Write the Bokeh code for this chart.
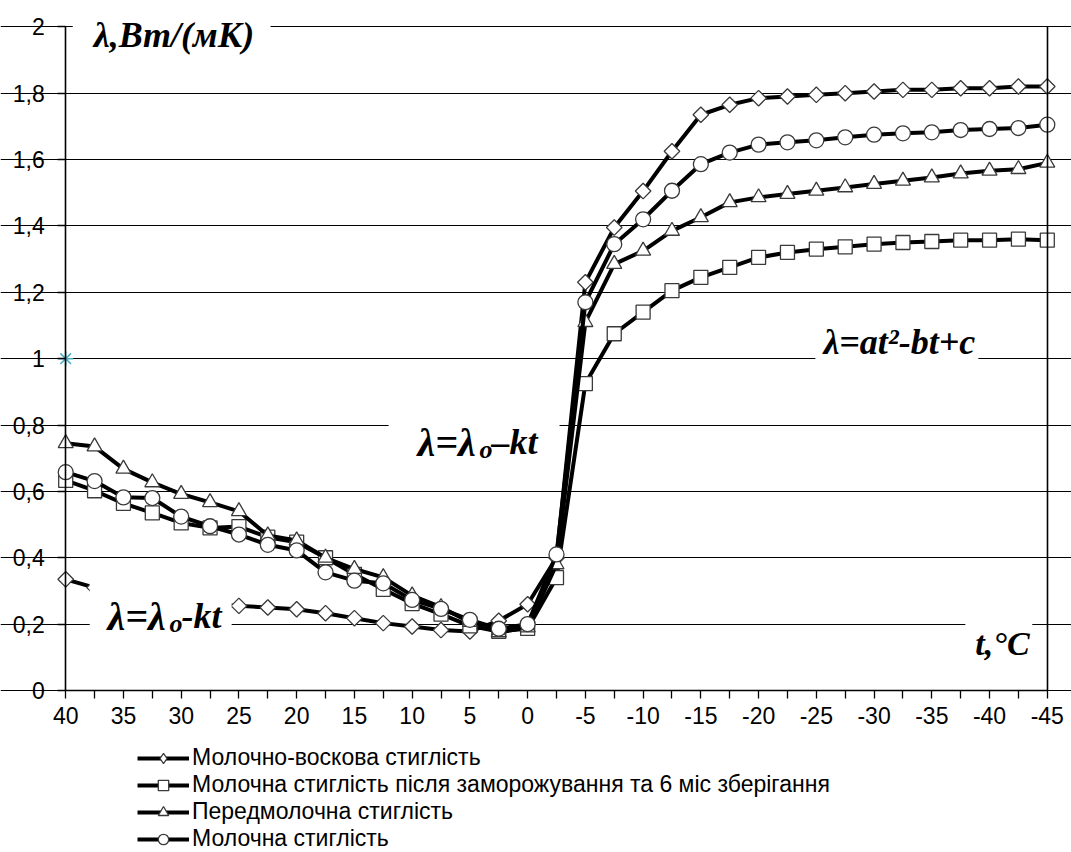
from bokeh.plotting import figure
from bokeh.models import (Range1d, FixedTicker, Label, BoxAnnotation, Legend, LinearAxis,
                          LegendItem, CustomJSTickFormatter)
from bokeh.embed import file_html
from bokeh.resources import INLINE

# ---------------- data ----------------
temps = [40, 37.5, 35, 32.5, 30, 27.5, 25, 22.5, 20, 17.5, 15, 12.5, 10, 7.5, 5, 2.5, 0,
         -2.5, -5, -7.5, -10, -12.5, -15, -17.5, -20, -22.5, -25, -27.5, -30, -32.5, -35,
         -37.5, -40, -42.5, -45]

milk_wax = [0.335, 0.31, 0.295, 0.28, 0.27, 0.26, 0.255, 0.25, 0.245, 0.233, 0.218, 0.203,
            0.193, 0.182, 0.178, 0.21, 0.26, 0.40, 1.23, 1.395, 1.505, 1.625, 1.735, 1.765,
            1.785, 1.79, 1.795, 1.80, 1.805, 1.81, 1.81, 1.815, 1.815, 1.82, 1.82]

milk_frozen = [0.633, 0.602, 0.564, 0.535, 0.505, 0.49, 0.494, 0.462, 0.447, 0.40, 0.35, 0.305,
               0.262, 0.23, 0.195, 0.178, 0.187, 0.34, 0.925, 1.075, 1.14, 1.205, 1.245, 1.275,
               1.305, 1.32, 1.33, 1.337, 1.345, 1.35, 1.353, 1.357, 1.357, 1.36, 1.357]

pre_milk = [0.745, 0.735, 0.668, 0.627, 0.592, 0.567, 0.54, 0.467, 0.452, 0.40, 0.366, 0.341,
            0.286, 0.251, 0.206, 0.175, 0.19, 0.38, 1.11, 1.285, 1.325, 1.385, 1.426, 1.471,
            1.486, 1.496, 1.506, 1.516, 1.526, 1.536, 1.546, 1.558, 1.566, 1.571, 1.59]

milk = [0.658, 0.631, 0.582, 0.58, 0.524, 0.495, 0.47, 0.439, 0.422, 0.356, 0.331, 0.323,
        0.273, 0.246, 0.213, 0.186, 0.20, 0.41, 1.17, 1.345, 1.42, 1.506, 1.586, 1.621,
        1.645, 1.652, 1.658, 1.667, 1.675, 1.679, 1.682, 1.689, 1.692, 1.695, 1.705]

series_names = ["Молочно-воскова стиглість",
                "Молочна стиглість після заморожування та 6 міс зберігання",
                "Передмолочна стиглість",
                "Молочна стиглість"]

x_major = [40, 35, 30, 25, 20, 15, 10, 5, 0, -5, -10, -15, -20, -25, -30, -35, -40, -45]
x_minor = [37.5, 32.5, 27.5, 22.5, 17.5, 12.5, 7.5, 2.5, -2.5, -7.5, -12.5, -17.5, -22.5,
           -27.5, -32.5, -37.5, -42.5]
y_major = [0, 0.2, 0.4, 0.6, 0.8, 1.0, 1.2, 1.4, 1.6, 1.8, 2.0]

stray_x = [40]
stray_y = [1.0]

# ---------------- figure ----------------
p = figure(width=1071, height=852, output_backend="svg", toolbar_location=None,
           x_range=Range1d(45.646, -47.096), y_range=Range1d(-0.4882, 2.0793),
           min_border=0, min_border_left=0, min_border_right=0, min_border_top=0,
           min_border_bottom=0,
           background_fill_color="white", border_fill_color="white")
p.outline_line_color = None

TICK_FONT = "Liberation Sans, Arial, sans-serif"

p.xaxis.ticker = FixedTicker(ticks=x_major, minor_ticks=x_minor)
p.xaxis.formatter = CustomJSTickFormatter(code="return String(tick);")
p.xaxis.bounds = (40, -45)
p.xaxis.fixed_location = 0
p.yaxis.ticker = FixedTicker(ticks=y_major, minor_ticks=[])
p.yaxis.formatter = CustomJSTickFormatter(
    code="const s = (Math.round(tick*10)/10).toString(); return s.replace('.', ',');")
p.yaxis.fixed_location = 40
p.yaxis.bounds = (0, 2)
for ax in (p.xaxis, p.yaxis):
    ax.axis_line_color = "black"
    ax.axis_line_width = 1.6
    ax.major_tick_line_color = "black"
    ax.major_tick_line_width = 1.3
    ax.major_tick_out = 8
    ax.major_tick_in = 0
    ax.minor_tick_line_color = "black"
    ax.minor_tick_line_width = 1.3
    ax.minor_tick_out = 8
    ax.minor_tick_in = 0
    ax.major_label_text_font = TICK_FONT
    ax.major_label_text_font_size = "23px"
    ax.major_label_text_color = "black"
p.yaxis.major_label_standoff = 13
p.xaxis.major_label_standoff = 9

# right border of the plot area
right_border = LinearAxis(fixed_location=-45, bounds=(0, 2), ticker=FixedTicker(ticks=[]),
                          axis_line_color="black", axis_line_width=1.6,
                          major_tick_line_color=None, minor_tick_line_color=None,
                          major_label_text_font_size="0px")
p.add_layout(right_border, "right")

p.xgrid.visible = False
p.ygrid.ticker = FixedTicker(ticks=y_major)
p.ygrid.bounds = (-45, 40)
p.ygrid.grid_line_color = "black"
p.ygrid.grid_line_width = 1.2

# ---------------- series ----------------
styles = [
    (milk_wax, dict(marker="square", size=11, angle=0.785398)),
    (milk_frozen, dict(marker="square", size=14)),
    (pre_milk, dict(marker="triangle", size=15)),
    (milk, dict(marker="circle", size=15)),
]
MARK_LINE = "#3a3a3a"
items = []
for i, ((vals, mk), name) in enumerate(zip(styles, series_names)):
    lr = p.line(temps, vals, line_color="black", line_width=4, line_join="round")
    leg_mark = None
    if i == 0:
        # plain diamond under each rotated square: gives the legend a diamond sample
        leg_mark = p.scatter(temps, vals, marker="diamond", size=10, fill_color="white",
                             line_color=MARK_LINE, line_width=1.3)
    sr = p.scatter(temps, vals, fill_color="white", line_color=MARK_LINE, line_width=1.3, **mk)
    items.append(LegendItem(label=name, renderers=[lr, leg_mark if leg_mark is not None else sr]))

p.scatter(stray_x, stray_y, marker="asterisk", size=15, line_color="#4bacc6", line_width=1.5)

# ---------------- annotation masks & texts ----------------
def mask(l, r, b, t):
    p.add_layout(BoxAnnotation(left=l, right=r, bottom=b, top=t, fill_color="white",
                               fill_alpha=1.0, line_alpha=0.0))

mask(39.39, 22.26, 1.946, 2.05)      # title
mask(12.04, -2.76, 0.687, 0.837)     # upper lambda
mask(37.92, 25.63, 0.12, 0.346)      # lower lambda
mask(-24.92, -39.03, 0.97, 1.139)    # quadratic
mask(-37.9, -43.7, 0.12, 0.235)      # t, C

SERIF = "Liberation Serif, Times New Roman, serif"

def txt(x, y, s, size="36px"):
    p.add_layout(Label(x=x, y=y, text=s, text_font=SERIF, text_font_style="bold italic",
                       text_font_size=size, text_color="black", text_align="left",
                       text_baseline="alphabetic"))

txt(37.58, 1.976, "λ,Вт/(мК)")
# upper  λ=λo–kt
txt(9.533, 0.748, "λ=λ", "40px")
txt(4.165, 0.726, "o", "26px")
txt(3.125, 0.748, "–kt")
# lower  λ=λo-kt
txt(36.38, 0.223, "λ=λ", "40px")
txt(31.01, 0.202, "o", "26px")
txt(29.97, 0.223, "-kt")
txt(-25.61, 1.051, "λ=at²-bt+c")
txt(-38.77, 0.142, "t,°C", "34px")

# ---------------- legend ----------------
legend = Legend(items=items, location=(137, 0), orientation="vertical",
                label_text_font="Liberation Sans Narrow, Arial Narrow, sans-serif",
                label_text_font_size="23px", label_text_color="black",
                glyph_width=52, glyph_height=26, label_height=26, label_standoff=3,
                spacing=0, padding=0, margin=0,
                border_line_alpha=0, background_fill_alpha=0)
p.add_layout(legend, "center")

open("out.html", "w").write(file_html(p, INLINE))
